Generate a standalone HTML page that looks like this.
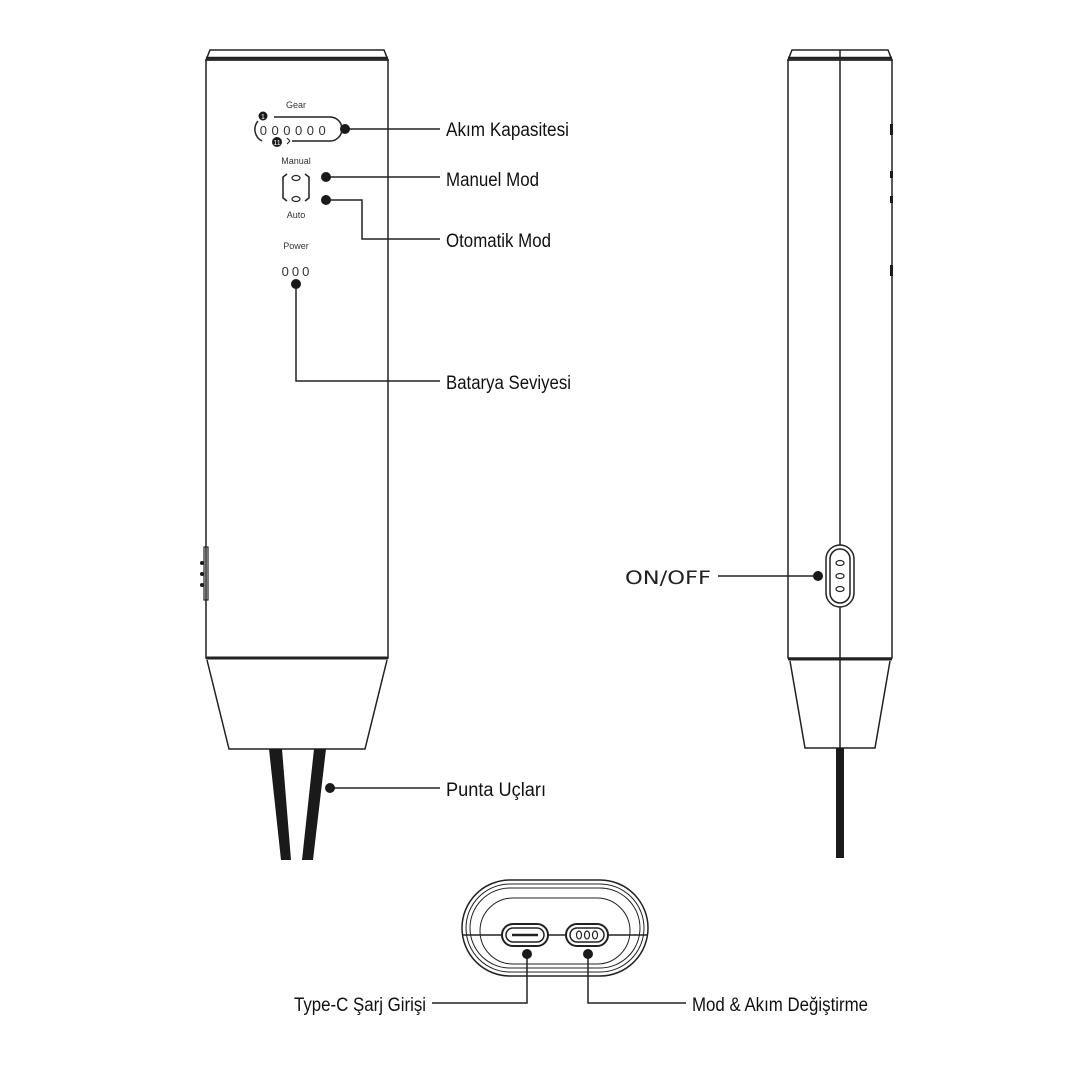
<!DOCTYPE html>
<html><head><meta charset="utf-8"><style>html,body{margin:0;padding:0;background:#fff}svg{display:block}</style></head>
<body>
<svg width="1080" height="1080" viewBox="0 0 1080 1080" xmlns="http://www.w3.org/2000/svg">
<rect width="1080" height="1080" fill="#fff"/>
<g fill="none" stroke="#222" stroke-width="1.5">
<path d="M206 60 L210 50 L384 50 L388 60 Z"/>
<line x1="206" y1="58" x2="388" y2="58" stroke-width="2.5"/>
<rect x="206" y="60" width="182" height="598"/>
<line x1="206" y1="658" x2="388" y2="658" stroke-width="3"/>
<path d="M207 660 L229 749 L365 749 L387 660"/>
<rect x="204" y="547" width="4" height="53" stroke-width="1.2"/>
<path d="M274 117 L330 117 A12 12 0 0 1 330 141 L292 141"/>
<path d="M258 121 A13 13 0 0 0 262 141" />
<path d="M290 141 L287 138 M290 141 L287 144" stroke-width="1"/>
<path d="M287 174 L283 177 L283 198 L287 201"/>
<path d="M305 174 L309 177 L309 198 L305 201"/>
<ellipse cx="296" cy="178" rx="4" ry="2.5" stroke-width="1.2"/>
<ellipse cx="296" cy="199" rx="4" ry="2.5" stroke-width="1.2"/>
<line x1="345" y1="129" x2="440" y2="129"/>
<line x1="326" y1="177" x2="440" y2="177"/>
<path d="M326 200 L362 200 L362 239 L440 239"/>
<path d="M296 284 L296 381 L440 381"/>
<line x1="330" y1="788" x2="440" y2="788"/>
<path d="M788 60 L792 50 L888 50 L892 60 Z"/>
<line x1="788" y1="58" x2="892" y2="58" stroke-width="2.5"/>
<rect x="788" y="60" width="104" height="598"/>
<line x1="840" y1="50" x2="840" y2="748"/>
<line x1="788" y1="659" x2="892" y2="659" stroke-width="3"/>
<path d="M790 661 L805 748 L875 748 L890 661"/>
<rect x="826" y="545" width="28" height="62" rx="14" fill="#fff"/>
<rect x="830" y="549" width="20" height="54" rx="10"/>
<ellipse cx="840" cy="563" rx="4" ry="2.5" stroke-width="1.2"/>
<ellipse cx="840" cy="576" rx="4" ry="2.5" stroke-width="1.2"/>
<ellipse cx="840" cy="589" rx="4" ry="2.5" stroke-width="1.2"/>
<line x1="718" y1="576" x2="818" y2="576"/>
<rect x="462" y="880" width="186" height="96" rx="48" />
<rect x="466" y="884" width="178" height="88" rx="44" stroke-width="1"/>
<rect x="470" y="888" width="170" height="80" rx="40" stroke-width="1"/>
<rect x="480" y="898" width="150" height="66" rx="33" stroke-width="1"/>
<line x1="462" y1="935" x2="648" y2="935"/>
<rect x="502" y="924" width="46" height="22" rx="11" fill="#fff" stroke-width="2"/>
<rect x="506" y="928" width="38" height="14" rx="7"/>
<line x1="512" y1="935" x2="538" y2="935" stroke-width="2.5"/>
<rect x="566" y="924" width="42" height="22" rx="11" fill="#fff" stroke-width="2"/>
<rect x="570" y="928" width="34" height="14" rx="7"/>
<ellipse cx="579" cy="935" rx="2.5" ry="4" stroke-width="1.2"/>
<ellipse cx="587" cy="935" rx="2.5" ry="4" stroke-width="1.2"/>
<ellipse cx="595" cy="935" rx="2.5" ry="4" stroke-width="1.2"/>
<path d="M527 954 L527 1003 L432 1003"/>
<path d="M588 954 L588 1003 L686 1003"/>
</g>
<g fill="#1a1a1a">
<polygon points="269,749 282,749 291,860 281,860"/>
<polygon points="314,749 326,749 313,860 302,860"/>
<rect x="836" y="748" width="8" height="110"/>
<circle cx="202" cy="563" r="2"/><circle cx="202" cy="574" r="2"/><circle cx="202" cy="585" r="2"/>
<rect x="890" y="124" width="3" height="11"/><rect x="890" y="171" width="3" height="7"/><rect x="890" y="196" width="3" height="7"/><rect x="890" y="265" width="3" height="11"/>
<circle cx="345" cy="129" r="5"/>
<circle cx="326" cy="177" r="5"/>
<circle cx="326" cy="200" r="5"/>
<circle cx="296" cy="284" r="5"/>
<circle cx="330" cy="788" r="5"/>
<circle cx="818" cy="576" r="5"/>
<circle cx="527" cy="954" r="5"/>
<circle cx="588" cy="954" r="5"/>
<circle cx="263" cy="116" r="4.5"/>
<circle cx="277" cy="142" r="5"/>
</g>
<g font-family="Liberation Sans, sans-serif" fill="#333" text-anchor="middle">
<text x="296" y="108" font-size="9">Gear</text>
<text x="263" y="119" font-size="7" fill="#fff">1</text>
<text x="277" y="145" font-size="7" fill="#fff">11</text>
<text x="295" y="135" font-size="13" letter-spacing="4.5">000000</text>
<text x="296" y="164" font-size="9">Manual</text>
<text x="296" y="218" font-size="9">Auto</text>
<text x="296" y="249" font-size="9">Power</text>
<text x="297" y="276" font-size="13" letter-spacing="3">000</text>
</g>
<g font-family="Liberation Sans, sans-serif" fill="#111" font-size="19">
<text x="446" y="136" textLength="123" lengthAdjust="spacingAndGlyphs">Akım Kapasitesi</text>
<text x="446" y="186" textLength="93" lengthAdjust="spacingAndGlyphs">Manuel Mod</text>
<text x="446" y="247" textLength="105" lengthAdjust="spacingAndGlyphs">Otomatik Mod</text>
<text x="446" y="389" textLength="125" lengthAdjust="spacingAndGlyphs">Batarya Seviyesi</text>
<text x="446" y="796" textLength="100" lengthAdjust="spacingAndGlyphs">Punta Uçları</text>
<text x="294" y="1011" textLength="132" lengthAdjust="spacingAndGlyphs">Type-C Şarj Girişi</text>
<text x="692" y="1011" textLength="176" lengthAdjust="spacingAndGlyphs">Mod &amp; Akım Değiştirme</text>
</g>
<text x="625" y="584" font-family="DejaVu Sans, sans-serif" font-size="19" fill="#222" textLength="86" lengthAdjust="spacingAndGlyphs">ON/OFF</text>
</svg>
</body></html>
